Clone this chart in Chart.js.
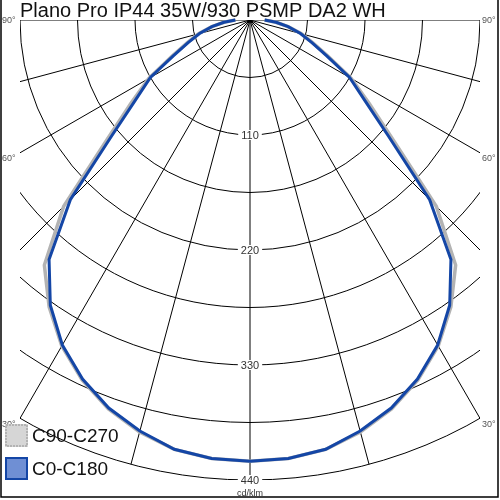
<!DOCTYPE html>
<html>
<head>
<meta charset="utf-8">
<script src="https://cdn.jsdelivr.net/npm/chart.js@4.4.1/dist/chart.umd.min.js"></script>
<style>
  html, body { margin: 0; padding: 0; background: #fff; }
  #wrap { width: 500px; height: 500px; position: relative; }
</style>
</head>
<body>
<div id="wrap"><canvas id="ldc"></canvas></div>
<script>
const title = 'Plano Pro IP44 35W/930 PSMP DA2 WH'
const unitLabel = 'cd/klm'

// gamma angles (deg from nadir), one half of each plane
const angles = [0, 5, 10, 15, 20, 25, 30, 35, 40, 45, 50, 55, 60, 65, 70, 75, 80, 85, 90]
const c0c180 = [422, 421, 417, 407, 395, 379, 359, 333, 299, 243, 173, 134, 110, 81, 63, 50, 37, 25, 14]
const c90c270 = [422, 421, 417, 408, 396, 380, 360, 335, 306, 252, 179, 139, 112, 83, 64, 51, 37, 25, 14]

const ringStep = 55
const ringMax = 440
const ringLabels = [110, 220, 330, 440]
const spokeAngles = [-90, -75, -60, -45, -30, -15, 0, 15, 30, 45, 60, 75, 90]
const angleLabels = ['90°', '60°', '30°']

// both halves of a plane -> x/y points for the scatter
function toPoints(vals) {
  const pts = []
  for (let i = angles.length - 1; i >= 0; i--) {
    const a = -angles[i] * Math.PI / 180
    pts.push({ x: vals[i] * Math.sin(a), y: -vals[i] * Math.cos(a) })
  }
  for (let i = 1; i < angles.length; i++) {
    const a = angles[i] * Math.PI / 180
    pts.push({ x: vals[i] * Math.sin(a), y: -vals[i] * Math.cos(a) })
  }
  return pts
}

const polarGrid = {
  id: 'polarGrid',
  beforeDatasetsDraw(chart) {
    const { ctx, chartArea: ca, scales: { x, y } } = chart
    const cx = x.getPixelForValue(0)
    const cy = y.getPixelForValue(0)
    const px = v => x.getPixelForValue(v) - cx
    ctx.save()
    ctx.beginPath()
    ctx.rect(ca.left, ca.top, ca.right - ca.left, ca.bottom - ca.top)
    ctx.clip()
    ctx.strokeStyle = '#000'
    ctx.lineWidth = 1
    for (let v = ringStep; v <= ringMax; v += ringStep) {
      ctx.beginPath()
      ctx.arc(cx, cy, px(v), 0, Math.PI)
      ctx.stroke()
    }
    spokeAngles.forEach(a => {
      const r = a * Math.PI / 180
      ctx.beginPath()
      ctx.moveTo(cx, cy)
      ctx.lineTo(cx + px(ringMax) * Math.sin(r), cy + px(ringMax) * Math.cos(r))
      ctx.stroke()
    })
    ctx.restore()
  },
  afterDraw(chart) {
    const { ctx, chartArea: ca, scales: { x, y } } = chart
    const cx = x.getPixelForValue(0)
    const cy = y.getPixelForValue(0)
    ctx.save()

    // ring values on the 0 deg spoke
    ctx.font = '11px "Liberation Sans", Arial, sans-serif'
    ctx.textAlign = 'center'
    ctx.textBaseline = 'middle'
    ringLabels.forEach(v => {
      const py = y.getPixelForValue(-v)
      const w = ctx.measureText(String(v)).width
      ctx.fillStyle = '#fff'
      ctx.fillRect(cx - w / 2 - 3, py - 5, w + 6, 10)
      ctx.fillStyle = '#333'
      ctx.fillText(String(v), cx, py + 1)
    })
    ctx.font = '9px "Liberation Sans", Arial, sans-serif'
    ctx.fillText(unitLabel, cx, ca.bottom + 14)

    // angle labels where the spokes leave the frame
    ctx.fillStyle = '#555'
    ctx.font = '9px "Liberation Sans", Arial, sans-serif'
    angleLabels.forEach(lbl => {
      const a = parseFloat(lbl) * Math.PI / 180
      const dx = ca.right - cx
      const py = a >= Math.PI / 2 - 0.01 ? cy + 1 : cy + dx / Math.tan(a) + 6
      ctx.textAlign = 'left'
      ctx.fillText(lbl, ca.right + 2, py)
      ctx.fillText(lbl, 2, py)
    })

    // title
    ctx.fillStyle = '#111'
    ctx.font = '20px "Liberation Sans", Arial, sans-serif'
    ctx.textAlign = 'left'
    ctx.textBaseline = 'alphabetic'
    ctx.fillText(title, 20, 17)

    // legend
    const ds = chart.data.datasets
    ds.forEach((d, i) => {
      const top = 424 + i * 33
      ctx.fillStyle = d.legendFill
      ctx.fillRect(5, top, 23, 23)
      ctx.strokeStyle = d.borderColor
      ctx.lineWidth = 2
      if (i === 0) ctx.setLineDash([2, 1])
      ctx.strokeRect(6, top + 1, 21, 21)
      ctx.setLineDash([])
      ctx.fillStyle = '#111'
      ctx.font = '19px "Liberation Sans", Arial, sans-serif'
      ctx.textBaseline = 'alphabetic'
      ctx.fillText(d.label, 32, top + 18)
    })

    // frame
    ctx.strokeStyle = '#000'
    ctx.lineWidth = 1.5
    ctx.beginPath()
    ctx.moveTo(1, 0)
    ctx.lineTo(1, 497)
    ctx.lineTo(498, 497)
    ctx.lineTo(498, 0)
    ctx.stroke()
    ctx.restore()
  }
}

new Chart(document.getElementById('ldc'), {
  type: 'scatter',
  data: {
    datasets: [{
      label: 'C90-C270',
      data: toPoints(c90c270),
      borderColor: '#b3b3b3',
      legendFill: '#d6d6d6',
      borderWidth: 3.5,
      showLine: true,
      pointRadius: 0,
      tension: 0,
      order: 2,
      clip: false
    }, {
      label: 'C0-C180',
      data: toPoints(c0c180),
      borderColor: '#1446a6',
      legendFill: '#6f8fd4',
      borderWidth: 3,
      showLine: true,
      pointRadius: 0,
      tension: 0,
      order: 1,
      clip: false
    }]
  },
  options: {
    responsive: true,
    maintainAspectRatio: false,
    animation: false,
    layout: { padding: 20 },
    plugins: {
      legend: { display: false },
      tooltip: { enabled: false }
    },
    scales: {
      x: { type: 'linear', min: -220, max: 220, display: false },
      y: { type: 'linear', min: -440, max: 0, display: false }
    }
  },
  plugins: [polarGrid]
})
</script>
</body>
</html>
